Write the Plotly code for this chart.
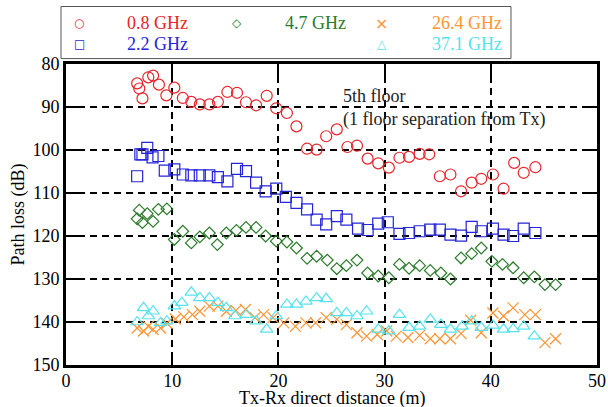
import plotly.graph_objects as go

# ---- data ----
x_08 = [6.7, 6.9, 7.2, 7.75, 8.2, 8.75, 9.45, 10.2, 11.0, 11.8, 12.6, 13.5, 14.3, 15.2, 16.1,
        16.95, 17.9, 18.9, 19.8, 20.8, 21.7, 22.7, 23.6, 24.5, 25.5, 26.5, 27.4, 28.4, 29.4, 30.4,
        31.4, 32.3, 33.3, 34.2, 35.2, 36.2, 37.2, 38.2, 39.1, 40.2, 41.2, 42.2, 43.1, 44.2]
y_08 = [84.5, 85.7, 88.0, 83.1, 82.7, 84.8, 87.3, 85.5, 87.9, 88.8, 89.4, 89.4, 88.8, 86.5, 86.7,
        88.9, 89.6, 87.4, 90.3, 91.4, 94.5, 99.7, 99.9, 96.8, 95.2, 99.3, 99.0, 102.0, 103.1, 104.1,
        101.8, 101.6, 100.9, 101.0, 106.1, 105.7, 109.6, 107.6, 106.7, 105.7, 109.0, 103.0, 105.3, 104.0]

x_22 = [6.7, 7.0, 7.2, 7.65, 8.15, 8.7, 9.3, 10.2, 11.0, 11.8, 12.6, 13.5, 14.3, 15.2, 16.1,
        16.95, 17.9, 18.8, 19.8, 20.7, 21.7, 22.7, 23.6, 24.5, 25.5, 26.4, 27.5, 28.4, 29.4, 30.3,
        31.4, 32.3, 33.3, 34.3, 35.2, 36.2, 37.2, 38.2, 39.1, 40.2, 41.2, 42.1, 43.1, 44.2]
y_22 = [106.1, 101.0, 101.0, 99.5, 101.7, 101.4, 104.8, 104.5, 105.7, 105.9, 105.9, 105.9, 106.3, 107.3, 104.4,
        104.9, 107.6, 109.6, 109.0, 110.9, 112.3, 113.8, 116.2, 117.3, 115.4, 116.2, 118.3, 118.6, 117.1, 116.8,
        119.5, 119.3, 118.9, 118.5, 118.5, 119.7, 119.9, 117.9, 118.9, 118.3, 119.7, 120.0, 118.3, 119.3]

x_47 = [6.7, 6.9, 7.2, 7.65, 8.2, 8.7, 9.5, 10.2, 11.0, 11.8, 12.6, 13.5, 14.25, 15.1, 16.05,
        16.95, 17.9, 18.8, 19.8, 20.8, 21.7, 22.7, 23.6, 24.6, 25.5, 26.4, 27.4, 28.4, 29.4, 30.4,
        31.4, 32.3, 33.3, 34.3, 35.3, 36.2, 37.2, 38.2, 39.1, 40.1, 41.1, 42.1, 43.1, 44.1, 45.1, 46.1]
y_47 = [116.0, 114.0, 116.9, 114.8, 116.6, 113.8, 113.7, 120.8, 118.9, 121.6, 120.2, 119.3, 122.0, 119.3, 118.7,
        118.0, 118.0, 120.0, 121.2, 121.4, 122.8, 125.2, 124.7, 125.6, 127.6, 126.9, 125.6, 128.6, 129.3, 129.7,
        126.6, 127.5, 126.9, 128.0, 128.6, 130.0, 125.1, 124.1, 122.8, 125.9, 126.6, 127.4, 129.7, 129.5, 131.3, 131.3]

x_264 = [6.7, 7.3, 7.75, 8.2, 8.9, 9.5, 10.3, 11.1, 11.9, 12.6, 13.5, 14.3, 15.1, 16.0,
         16.9, 17.8, 18.6, 19.5, 20.5, 21.6, 22.6, 23.5, 24.5, 25.5, 26.4, 27.4, 28.3, 29.3, 30.2,
         31.1, 32.2, 33.3, 34.3, 35.2, 36.2, 37.2, 38.1, 39.1, 40.2, 41.2, 42.1, 43.2, 44.2, 45.1, 46.1]
y_264 = [141.4, 142.1, 141.0, 141.7, 141.4, 140.3, 139.3, 138.8, 138.3, 137.5, 136.3, 136.3, 137.5, 137.3,
         137.1, 139.0, 138.3, 139.0, 140.2, 141.0, 140.2, 140.2, 139.0, 139.4, 140.6, 142.5, 143.3, 142.9, 142.1,
         143.3, 143.6, 143.1, 143.9, 143.9, 143.9, 142.7, 139.6, 142.5, 137.9, 138.6, 136.7, 138.3, 138.3, 144.8, 143.9]

x_371 = [6.7, 7.3, 7.75, 8.2, 8.9, 9.5, 10.2, 10.9, 11.8, 12.6, 13.5, 14.3, 15.1, 15.9,
         17.0, 17.9, 18.9, 19.8, 20.8, 21.7, 22.6, 23.6, 24.5, 25.5, 26.4, 27.4, 28.3, 29.4, 30.4,
         31.4, 32.3, 33.3, 34.3, 35.3, 36.2, 37.3, 38.2, 39.1, 40.2, 41.2, 42.1, 43.1, 44.1]
y_371 = [140.0, 136.7, 138.6, 137.5, 140.2, 139.8, 136.3, 135.5, 133.1, 134.4, 134.4, 135.5, 136.7, 138.6,
         138.3, 139.8, 141.7, 138.6, 135.9, 135.9, 135.2, 134.4, 134.6, 137.9, 137.9, 138.6, 137.5, 141.7, 142.1,
         138.3, 141.3, 141.0, 139.4, 140.6, 141.7, 141.0, 139.8, 141.3, 140.8, 141.7, 141.6, 141.0, 143.3]

series_names = ["0.8 GHz", "2.2 GHz", "4.7 GHz", "26.4 GHz", "37.1 GHz"]
x_ticks = [0, 10, 20, 30, 40, 50]
y_ticks = [80, 90, 100, 110, 120, 130, 140, 150]
x_title = "Tx-Rx direct distance (m)"
y_title = "Path loss (dB)"

# ---- style ----
FONT = "Liberation Serif, Times New Roman, serif"
colors = ["#e8242a", "#2424d8", "#2a7a2a", "#ff9433", "#55e3ee"]
symbols = ["circle-open", "square-open", "diamond-open", "x-thin-open", "triangle-up-open"]
sizes = [11, 11, 9, 11, 11]
datasets = [(x_08, y_08), (x_22, y_22), (x_47, y_47), (x_264, y_264), (x_371, y_371)]

fig = go.Figure()
for (xs, ys), name, c, s, sz in zip(datasets, series_names, colors, symbols, sizes):
    fig.add_trace(go.Scatter(
        x=xs, y=ys, mode="markers", name=name, showlegend=False,
        marker=dict(symbol=s, size=sz, color=c, line=dict(color=c, width=1.2)),
    ))

axis_common = dict(
    showline=True, linewidth=3, linecolor="black", mirror="ticks",
    ticks="inside", ticklen=12, tickwidth=2, tickcolor="black",
    showgrid=True, gridcolor="black", gridwidth=2, griddash="7px,5px",
    zeroline=False, automargin=False,
    tickfont=dict(family=FONT, size=18, color="black"),
)

fig.update_xaxes(range=[0, 50], tickvals=x_ticks, ticklabelstandoff=-3, **axis_common)
fig.update_yaxes(range=[150, 80], tickvals=y_ticks,
                 title=dict(text=y_title, font=dict(family=FONT, size=18, color="black"), standoff=4),
                 **axis_common)

# x-axis title as annotation (fine positioning)
fig.add_annotation(xref="paper", yref="paper", x=0.5, y=-0.11, text=x_title, showarrow=False,
                   xanchor="center", yanchor="middle", font=dict(family=FONT, size=18, color="black"))

# annotation text
fig.add_annotation(x=25.9, y=87.5, text="5th floor", showarrow=False, xanchor="left", yanchor="middle",
                   font=dict(family=FONT, size=18, color="#222222"))
fig.add_annotation(x=25.9, y=92.9, text="(1 floor separation from Tx)", showarrow=False, xanchor="left",
                   yanchor="middle", font=dict(family=FONT, size=18, color="#222222"))

# manual legend box
fig.add_shape(type="rect", xref="paper", yref="paper", x0=-0.0094, x1=0.838, y0=1.018, y1=1.191,
              line=dict(color="#555555", width=1), fillcolor="white")
glyphs = ["\u25CB", "\u25A1", "\u25C7", "\u00D7", "\u25B3"]
leg_pos = [(0.0245, 0.2335, 1.1348), (0.0245, 0.2335, 1.0649), (0.3220, 0.5311, 1.1348),
           (0.5951, 0.8249, 1.1348), (0.5951, 0.8249, 1.0649)]
glyph_sizes = [12, 12, 12, 16, 12]
for g, name, c, (gx, tx, ly), gs in zip(glyphs, series_names, colors, leg_pos, glyph_sizes):
    fig.add_annotation(xref="paper", yref="paper", x=gx, y=ly, text=g, showarrow=False,
                       xanchor="center", yanchor="middle", font=dict(family="DejaVu Sans", size=gs, color=c))
    fig.add_annotation(xref="paper", yref="paper", x=tx, y=ly, text=name, showarrow=False,
                       xanchor="right", yanchor="middle", font=dict(family=FONT, size=18, color=c))

fig.update_layout(
    width=608, height=407,
    margin=dict(l=66, r=11, t=64, b=42),
    paper_bgcolor="white", plot_bgcolor="white",
    font=dict(family=FONT, size=18, color="black"),
)

fig.write_html("out.html", config={"displayModeBar": False},
               post_script="document.body.style.margin='0';document.body.style.overflow='hidden';")
